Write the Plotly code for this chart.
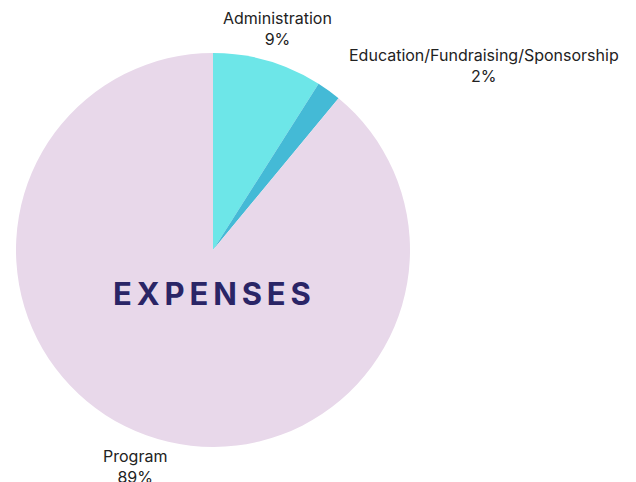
import math
import plotly.graph_objects as go

categories = ["Administration", "Education/Fundraising/Sponsorship", "Program"]
values = [9, 2, 89]
colors = ["#6DE6E8", "#44BAD6", "#E8D8EA"]
center_title = "EXPENSES"

W, H = 636, 482
OFF = 8  # page body margin


def px(x):
    return (x - OFF) / W


def py(y):
    return 1 - (y - OFF) / H


CX, CY, R = 213, 250, 197

fig = go.Figure(go.Pie(
    labels=categories,
    values=values,
    marker=dict(colors=colors, line=dict(width=0)),
    sort=False,
    direction="clockwise",
    rotation=0,
    textinfo="none",
    domain=dict(x=[px(CX - R), px(CX + R)], y=[py(CY + R), py(CY - R)]),
    showlegend=False,
    hovertemplate="%{label}<br>%{percent}<extra></extra>",
))

# outside labels positioned at each slice's mid-angle
total = sum(values)
cum = 0
label_style = {
    0: dict(xanchor="center", xshift=0, yshift=0),
    1: dict(xanchor="left", xshift=-1, yshift=-2),
    2: dict(xanchor="center", xshift=0, yshift=0),
}
for i, (lab, v) in enumerate(zip(categories, values)):
    mid = (cum + v / 2) / total * 2 * math.pi
    cum += v
    lx = CX + 1.17 * R * math.sin(mid)
    ly = CY - 1.17 * R * math.cos(mid)
    st = label_style[i]
    fig.add_annotation(
        text=f"{lab}<br>{round(v / total * 100)}%",
        x=px(lx), y=py(ly), xref="paper", yref="paper",
        xanchor=st["xanchor"], yanchor="middle",
        xshift=st["xshift"], yshift=st["yshift"],
        showarrow=False, align="center",
        font=dict(family="Inter", size=16, color="#222222"),
    )

fig.add_annotation(
    text="\u2009".join(center_title),
    x=px(212), y=py(293), xref="paper", yref="paper",
    xanchor="center", yanchor="middle",
    showarrow=False,
    font=dict(family="Inter", size=31, color="#2A2566", weight="bold"),
)

fig.update_layout(
    width=W, height=H,
    margin=dict(l=0, r=0, t=0, b=0),
    paper_bgcolor="white",
    plot_bgcolor="white",
)

fig.write_html("out.html")
